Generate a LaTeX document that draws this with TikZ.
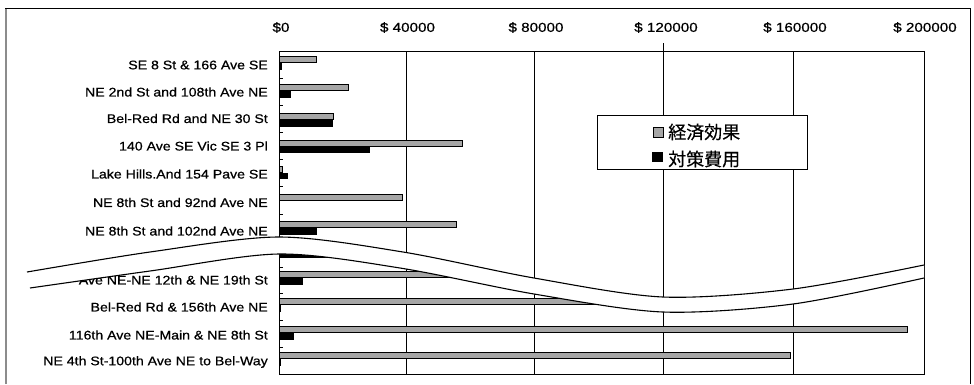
\documentclass[tikz,border=0pt]{standalone}
\usepackage{fontspec}
\usepackage{graphicx}
\setmainfont{Liberation Sans}
\newfontfamily\labfont[FakeBold=0.6]{Liberation Sans}
\newfontfamily\cjk[FakeBold=0.3]{Noto Sans CJK JP}
\newcommand\hsc[1]{\scalebox{1.13}[1]{#1}}
\newcommand\asc[1]{\scalebox{1.17}[1]{#1}}
\begin{document}
\begin{tikzpicture}[x=1pt,y=-1pt,
  gridline/.style={black,line width=0.7pt},
  plotframe/.style={black,line width=0.8pt},
  lightbar/.style={draw=black,fill=black!35,line width=0.8pt},
  darkbar/.style={fill=black},
  lab/.style={anchor=east,inner sep=0pt,font=\labfont\fontsize{12.5}{14}\selectfont},
  axlab/.style={inner sep=0pt,font=\labfont\fontsize{13}{15}\selectfont},
  legtxt/.style={anchor=west,inner sep=0pt,font=\cjk\fontsize{18}{20}\selectfont},
  bandline/.style={black,line width=1.1pt}]
\useasboundingbox (0,0) rectangle (974,384);
% outer frame
\draw[black!45,line width=2pt] (6,384) -- (6,8);
\draw[black,line width=0.9pt] (5,8) -- (970,8) -- (970,384);
% grid and plot frame
\foreach \gx in {406,534,663,793} \draw[gridline] (\gx,51) -- (\gx,374);
\draw[plotframe] (279,51) rectangle (924,374);
\foreach \ty in {78,105,132,159,186,214,241,267,293,320,347} \draw[line width=0.6pt] (279,\ty) -- (283,\ty);
\draw[line width=0.6pt] (663,43) -- (663,51);
% axis labels
\node[axlab] (a0) at (281,27.5) {\asc{\$0}};
\node[axlab] (a1) at (407.5,27.5) {\asc{\$ 40000}};
\node[axlab] (a2) at (536,27.5) {\asc{\$ 80000}};
\node[axlab] (a3) at (666,27.5) {\asc{\$ 120000}};
\node[axlab] (a4) at (795,27.5) {\asc{\$ 160000}};
\node[axlab] (a5) at (925,27.5) {\asc{\$ 200000}};
% bars
\foreach \b/\l/\d in {62.5/316/282, 90.5/348/291, 119.5/333/333, 146/462/370,
  172/282/288, 200.5/402/279, 227.5/456/317, 251/279/337, 277.5/460/303,
  304.5/640/281, 332.5/907/294, 358.5/790/281}{
  \draw[lightbar] (279,\b-6) rectangle (\l,\b);
  \fill[darkbar] (279,\b+0.5) rectangle (\d,\b+7);
}
% category labels
\node[lab] (l0) at (268,65) {\hsc{SE 8 St \& 166 Ave SE}};
\node[lab] (l1) at (268,92) {\hsc{NE 2nd St and 108th Ave NE}};
\node[lab] (l2) at (268,118.5) {\hsc{Bel-Red Rd and NE 30 St}};
\node[lab] (l3) at (268,146) {\hsc{140 Ave SE Vic SE 3 Pl}};
\node[lab] (l4) at (268,174) {\hsc{Lake Hills.And 154 Pave SE}};
\node[lab] (l5) at (268,202.5) {\hsc{NE 8th St and 92nd Ave NE}};
\node[lab] (l6) at (268,231) {\hsc{NE 8th St and 102nd Ave NE}};
\node[lab] (l8) at (268,280) {\hsc{Ave NE-NE 12th \& NE 19th St}};
\node[lab] (l9) at (268,307) {\hsc{Bel-Red Rd \& 156th Ave NE}};
\node[lab] (l10) at (268,335) {\hsc{116th Ave NE-Main \& NE 8th St}};
\node[lab] (l11) at (268,362) {\hsc{NE 4th St-100th Ave NE to Bel-Way}};
% legend
\node[draw=black,fill=white,line width=0.8pt,minimum width=210,minimum height=54,anchor=north west,inner sep=0pt] (leg) at (597,115) {};
\draw[lightbar] (653,127.5) rectangle (663,137);
\fill[darkbar] (652,152) rectangle (663,162);
\node[legtxt] (k1) at (668,132) {経済効果};
\node[legtxt] (k2) at (668,159) {対策費用};
% break band
\fill[white] plot[smooth] coordinates {(27,272) (150,252) (279,237) (403,252) (534,278) (663,297) (793,289) (924,265)}
  -- plot[smooth] coordinates {(924,278) (793,304) (663,312) (534,294) (400,268) (279,254) (150,271) (30,288)} -- cycle;
\draw[bandline] plot[smooth] coordinates {(27,272) (150,252) (279,237) (403,252) (534,278) (663,297) (793,289) (924,265)};
\draw[bandline] plot[smooth] coordinates {(30,288) (150,271) (279,254) (400,268) (534,294) (663,312) (793,304) (924,278)};
\end{tikzpicture}
\end{document}
